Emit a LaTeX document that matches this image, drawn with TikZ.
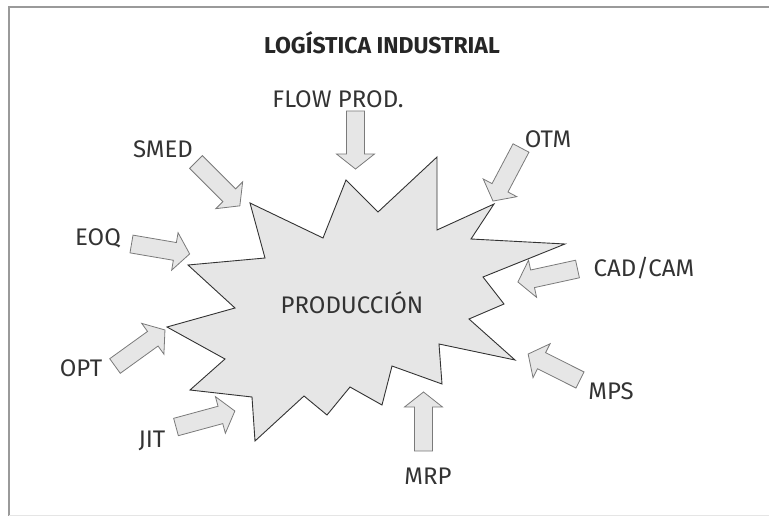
\documentclass[tikz,border=0pt]{standalone}
\usepackage{fontspec}
\setmainfont{Fira Sans}
\definecolor{fillgray}{HTML}{E6E6E6}
\definecolor{arrline}{HTML}{7A7A7A}
\definecolor{txt}{HTML}{333333}
\definecolor{frame}{HTML}{9A9A9A}
\newcommand\blkarrow[4]{% tail x, tail y, canvas angle, length
  \begin{scope}[shift={(#1,#2)}, rotate=#3]
    \draw[arrowbody] (0,-9) -- ({#4-15},-9) -- ({#4-15},-19) -- (#4,0) -- ({#4-15},19) -- ({#4-15},9) -- (0,9) -- cycle;
  \end{scope}}
\begin{document}
\begin{tikzpicture}[x=1pt,y=-1pt,
  arrowbody/.style={draw=arrline, fill=fillgray, line width=0.8pt, line join=miter},
  lbl/.style={text=txt, font=\fontsize{24}{28}\selectfont, inner sep=0pt},
  titlelbl/.style={text=black!85, font=\bfseries\fontsize{23}{27}\selectfont, inner sep=0pt}]
\useasboundingbox (0,0) rectangle (769,516);
% frame
\draw[frame, line width=1.6pt] (769,7) -- (9,7) -- (9,516);
\draw[black!10, line width=0.8pt] (9,515) -- (769,515);
% star
\draw[fill=fillgray, draw=black!80, line width=0.9pt, line join=miter]
 (250,203) -- (323,238) -- (346,180) -- (378,212) -- (437,157) -- (437,230) --
 (494,204) -- (471,239) -- (565,244) -- (483,277) -- (504,304) -- (469,319) --
 (515,360) -- (439,344) -- (442,384) -- (392,366) -- (382,405) -- (350,387) --
 (327,415) -- (304,396) -- (255,441) -- (252,397) -- (190,390) -- (225,359) --
 (167,327) -- (235,308) -- (188,265) -- (265,258) -- cycle;
\node[lbl] (prod) at (352,303) {PRODUCCIÓN};
% arrows
\blkarrow{355.5}{111}{-90}{58}
\blkarrow{196}{162}{-45}{62}
\blkarrow{521}{148}{-117.8}{60}
\blkarrow{131.5}{244}{-9.7}{59}
\blkarrow{577.5}{269}{-167.7}{61}
\blkarrow{115}{366}{35.8}{61.6}
\blkarrow{176}{427}{15.2}{61}
\blkarrow{423.5}{451}{90}{59}
\blkarrow{580}{380}{153.4}{58}
% labels
\node[titlelbl] (title) at (382,43) {LOGÍSTICA INDUSTRIAL};
\node[lbl] (flow) at (338,99) {FLOW PROD.};
\node[lbl] (smed) at (163,149) {SMED};
\node[lbl] (otm) at (548,139) {OTM};
\node[lbl] (eoq) at (98,238) {EOQ};
\node[lbl] (cad) at (644,268) {CAD/CAM};
\node[lbl] (opt) at (81,368) {OPT};
\node[lbl] (mps) at (611,391) {MPS};
\node[lbl] (jit) at (152,441) {JIT};
\node[lbl] (mrp) at (428,476) {MRP};
\end{tikzpicture}
\end{document}
